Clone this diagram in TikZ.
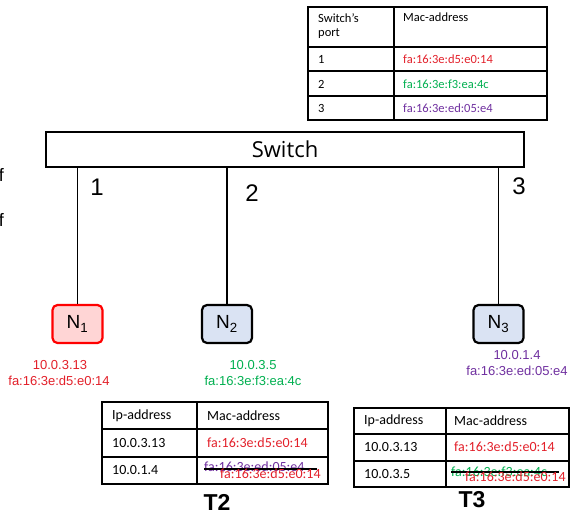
\documentclass[tikz,border=0pt]{standalone}
\usepackage{fontspec}
\setmainfont{Liberation Sans}
\newfontfamily\calfont{Carlito}
\newfontfamily\swfont{Open Sans}
\begin{document}
\begin{tikzpicture}[x=1pt,y=-1pt,
  tbl/.style={line width=1.1pt},
  ttext/.style={font=\calfont\fontsize{12.5}{14}\selectfont, anchor=west, inner sep=0pt},
  ttextb/.style={font=\calfont\fontsize{14}{16}\selectfont, anchor=west, inner sep=0pt},
  nodebox/.style={draw, line width=2.2pt, rounded corners=5pt, minimum width=50pt, minimum height=38pt, font=\fontsize{19}{21}\selectfont},
  addr/.style={font=\fontsize{13}{15}\selectfont, inner sep=0pt},
  port/.style={font=\fontsize{24}{26}\selectfont, inner sep=0pt},
  wire/.style={line width=1.3pt},
  tlabel/.style={font=\bfseries\fontsize{23}{25}\selectfont, inner sep=0pt}
]
\definecolor{myred}{HTML}{E3202A}
\definecolor{mygreen}{HTML}{00B050}
\definecolor{mypurple}{HTML}{7030A0}
\definecolor{pinkfill}{HTML}{FFD5D5}
\definecolor{bluefill}{HTML}{DAE3F3}
\useasboundingbox (0,0) rectangle (574,520);
\fill[white] (0,0) rectangle (574,520);

% clipped fragments at left edge
\node[font=\fontsize{18}{20}\selectfont, anchor=east, inner sep=0pt] (f1) at (4,175) {f};
\node[font=\fontsize{18}{20}\selectfont, anchor=east, inner sep=0pt] (f2) at (4,220) {f};

% top table
\draw[tbl] (308,7) rectangle (547,120);
\draw[tbl] (308,47) -- (547,47);
\draw[tbl] (308,71) -- (547,71);
\draw[tbl] (308,96) -- (547,96);
\draw[tbl] (394,7) -- (394,120);
\node[ttext, anchor=north west, align=left] (h1) at (318,13) {Switch’s\\port};
\node[ttext, anchor=north west] (h2) at (403,13) {Mac-address};
\node[ttext] (p1) at (318,59.5) {1};
\node[ttext, text=myred] (m1) at (403,59.5) {fa:16:3e:d5:e0:14};
\node[ttext] (p2) at (318,84) {2};
\node[ttext, text=mygreen] (m2) at (403,84) {fa:16:3e:f3:ea:4c};
\node[ttext] (p3) at (318,108.5) {3};
\node[ttext, text=mypurple] (m3) at (403,108.5) {fa:16:3e:ed:05:e4};

% switch
\node[draw, line width=2pt, minimum width=478pt, minimum height=35pt, inner sep=0pt,
      font=\swfont\fontsize{22}{24}\selectfont] (sw) at (285,149) {Switch};

% nodes
\node[nodebox, draw=red, fill=pinkfill] (n1) at (77.5,324) {N\textsubscript{1}};
\node[nodebox, fill=bluefill] (n2) at (227,324) {N\textsubscript{2}};
\node[nodebox, fill=bluefill] (n3) at (498.5,324) {N\textsubscript{3}};

\coordinate (s1) at (sw.south -| n1.north);
\coordinate (s2) at (sw.south -| n2.north);
\coordinate (s3) at (sw.south -| n3.north);
\draw[wire] (s1) -- (n1.north);
\draw[wire] (s2) -- (n2.north);
\draw[wire] (s3) -- (n3.north);

\node[port] (l1) at (97,187) {1};
\node[port] (l2) at (252,193) {2};
\node[port] (l3) at (519,186) {3};

% addresses under nodes
\node[addr, text=myred] (a1i) at (60,365) {10.0.3.13};
\node[addr, text=myred] (a1m) at (59,381) {fa:16:3e:d5:e0:14};
\node[addr, text=mygreen] (a2i) at (253,365) {10.0.3.5};
\node[addr, text=mygreen] (a2m) at (253,381) {fa:16:3e:f3:ea:4c};
\node[addr, text=mypurple] (a3i) at (517,355) {10.0.1.4};
\node[addr, text=mypurple] (a3m) at (517,371) {fa:16:3e:ed:05:e4};

% T2 table
\draw[tbl] (102,402) rectangle (328,484);
\draw[tbl] (102,429) -- (328,429);
\draw[tbl] (102,457) -- (328,457);
\draw[tbl] (197,402) -- (197,484);
\node[ttextb] (t2h1) at (112,416) {Ip-address};
\node[ttextb] (t2h2) at (207,416) {Mac-address};
\node[ttextb] (t2r1a) at (112,443) {10.0.3.13};
\node[ttextb, text=myred] (t2r1b) at (207,443) {fa:16:3e:d5:e0:14};
\node[ttextb] (t2r2a) at (112,470) {10.0.1.4};
\node[ttextb, text=mypurple] (t2old) at (204,467) {fa:16:3e:ed:05:e4};
\draw[line width=2.2pt] (204,469) -- (317,469);
\node[ttextb, text=myred] (t2new) at (220,474) {fa:16:3e:d5:e0:14};
\node[tlabel] (t2) at (217,502) {T2};

% T3 table
\draw[tbl] (354,408) rectangle (569,487);
\draw[tbl] (354,434) -- (569,434);
\draw[tbl] (354,461) -- (569,461);
\draw[tbl] (446,408) -- (446,487);
\node[ttextb] (t3h1) at (364,421) {Ip-address};
\node[ttextb] (t3h2) at (454,421) {Mac-address};
\node[ttextb] (t3r1a) at (364,447) {10.0.3.13};
\node[ttextb, text=myred] (t3r1b) at (454,447) {fa:16:3e:d5:e0:14};
\node[ttextb] (t3r2a) at (364,474) {10.0.3.5};
\node[ttextb, text=mygreen] (t3old) at (451,472) {fa:16:3e:f3:ea:4c};
\draw[line width=2.2pt] (451,472) -- (559,472);
\node[ttextb, text=myred] (t3new) at (465,477) {fa:16:3e:d5:e0:14};
\node[tlabel] (t3) at (472,500) {T3};
\end{tikzpicture}
\end{document}
